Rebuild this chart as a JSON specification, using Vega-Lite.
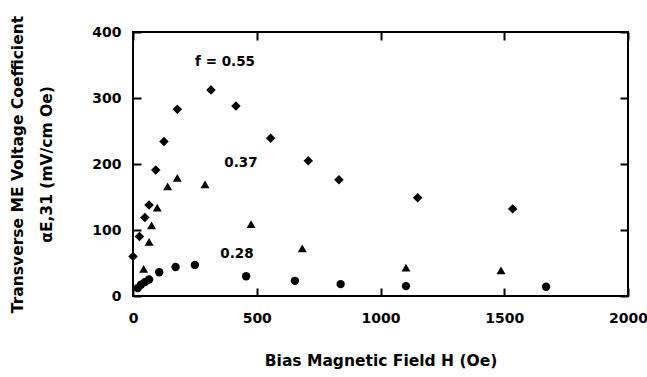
{
  "$schema": "https://vega.github.io/schema/vega-lite/v6.json",
  "width": 495,
  "height": 264,
  "autosize": {"type": "none"},
  "padding": {"left": 133, "top": 32, "right": 19, "bottom": 81},
  "background": "white",
  "config": {
    "view": {"stroke": "black", "strokeWidth": 2},
    "font": "DejaVu Sans",
    "axis": {
      "grid": false,
      "domain": false,
      "offset": -8,
      "tickColor": "black",
      "tickWidth": 2,
      "tickSize": 8,
      "labelFont": "DejaVu Sans",
      "labelFontWeight": "bold",
      "labelFontSize": 14,
      "labelColor": "black",
      "titleFont": "DejaVu Sans",
      "titleFontWeight": "bold",
      "titleFontSize": 15.5,
      "titleColor": "black"
    }
  },
  "datasets": {
    "pts": [
      {"H": 0, "a": 60, "f": "0.55"},
      {"H": 26, "a": 90, "f": "0.55"},
      {"H": 48, "a": 119, "f": "0.55"},
      {"H": 65, "a": 138, "f": "0.55"},
      {"H": 92, "a": 191, "f": "0.55"},
      {"H": 125, "a": 234, "f": "0.55"},
      {"H": 179, "a": 283, "f": "0.55"},
      {"H": 315, "a": 312, "f": "0.55"},
      {"H": 416, "a": 288, "f": "0.55"},
      {"H": 556, "a": 239, "f": "0.55"},
      {"H": 708, "a": 205, "f": "0.55"},
      {"H": 832, "a": 176, "f": "0.55"},
      {"H": 1150, "a": 149, "f": "0.55"},
      {"H": 1534, "a": 132, "f": "0.55"},
      {"H": 43, "a": 41, "f": "0.37"},
      {"H": 65, "a": 82, "f": "0.37"},
      {"H": 75, "a": 107, "f": "0.37"},
      {"H": 98, "a": 134, "f": "0.37"},
      {"H": 140, "a": 166, "f": "0.37"},
      {"H": 179, "a": 179, "f": "0.37"},
      {"H": 291, "a": 169, "f": "0.37"},
      {"H": 477, "a": 109, "f": "0.37"},
      {"H": 684, "a": 72, "f": "0.37"},
      {"H": 1103, "a": 43, "f": "0.37"},
      {"H": 1487, "a": 39, "f": "0.37"},
      {"H": 19, "a": 12, "f": "0.28"},
      {"H": 32, "a": 17, "f": "0.28"},
      {"H": 48, "a": 21, "f": "0.28"},
      {"H": 65, "a": 25, "f": "0.28"},
      {"H": 106, "a": 36, "f": "0.28"},
      {"H": 172, "a": 44, "f": "0.28"},
      {"H": 250, "a": 47, "f": "0.28"},
      {"H": 457, "a": 30, "f": "0.28"},
      {"H": 654, "a": 23, "f": "0.28"},
      {"H": 839, "a": 18, "f": "0.28"},
      {"H": 1103, "a": 15, "f": "0.28"},
      {"H": 1669, "a": 14, "f": "0.28"}
    ],
    "labels": [
      {"H": 372, "a": 354, "t": "f = 0.55"},
      {"H": 436, "a": 201, "t": "0.37"},
      {"H": 420, "a": 63, "t": "0.28"}
    ]
  },
  "layer": [
    {
      "data": {"name": "pts"},
      "mark": {"type": "point", "filled": true, "opacity": 1},
      "encoding": {
        "x": {
          "field": "H", "type": "quantitative",
          "scale": {"domain": [0, 2000], "nice": false},
          "axis": {"values": [0, 500, 1000, 1500, 2000], "format": "d", "title": "Bias Magnetic Field H (Oe)", "titlePadding": 28, "labelPadding": 15, "labelFlush": false}
        },
        "y": {
          "field": "a", "type": "quantitative",
          "scale": {"domain": [0, 400], "nice": false},
          "axis": {"values": [0, 100, 200, 300, 400], "format": "d", "title": ["Transverse ME Voltage Coefficient", "αE,31 (mV/cm Oe)"], "titleLineHeight": 29, "titlePadding": 37, "labelPadding": 12}
        },
        "shape": {
          "field": "f", "type": "nominal",
          "scale": {"domain": ["0.55", "0.37", "0.28"], "range": ["diamond", "triangle-up", "circle"]},
          "legend": null
        },
        "size": {
          "field": "f", "type": "nominal",
          "scale": {"domain": ["0.55", "0.37", "0.28"], "range": [90, 70, 55]},
          "legend": null
        },
        "color": {"value": "black"}
      }
    },
    {
      "data": {"name": "labels"},
      "mark": {"type": "text", "font": "DejaVu Sans", "fontWeight": "bold", "fontSize": 13.5, "color": "black"},
      "encoding": {
        "x": {"field": "H", "type": "quantitative", "axis": {"orient": "top", "values": [0, 500, 1000, 1500, 2000], "labels": false, "title": null}},
        "y": {"field": "a", "type": "quantitative", "axis": {"orient": "right", "values": [0, 100, 200, 300, 400], "labels": false, "title": null}},
        "text": {"field": "t"}
      }
    }
  ],
  "resolve": {"axis": {"x": "independent", "y": "independent"}}
}
